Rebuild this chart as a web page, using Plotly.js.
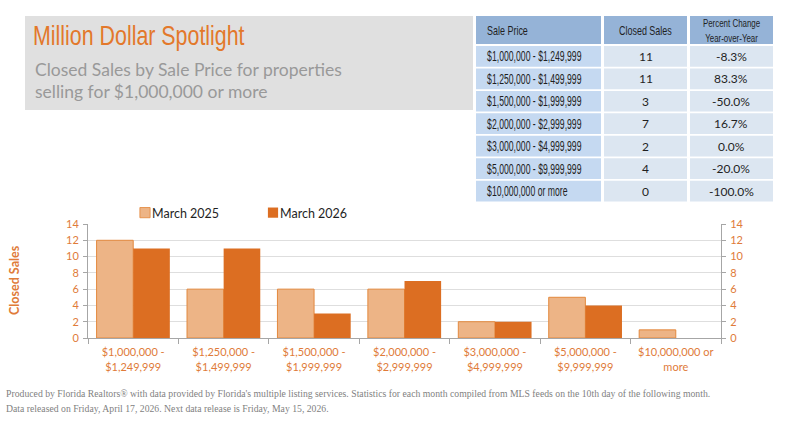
<!DOCTYPE html>
<html>
<head>
<meta charset="utf-8">
<script src="https://cdn.plot.ly/plotly-3.0.1.min.js"></script>
<style>
  html, body { margin: 0; padding: 0; background: #ffffff; }
  #chart { width: 792px; height: 434px; }
</style>
</head>
<body>
<div id="chart"></div>
<script>
// ---- data ----
const categories = ["$1,000,000 - $1,249,999", "$1,250,000 - $1,499,999", "$1,500,000 - $1,999,999",
  "$2,000,000 - $2,999,999", "$3,000,000 - $4,999,999", "$5,000,000 - $9,999,999", "$10,000,000 or more"];
const tickLabels = ["$1,000,000 -<br>$1,249,999", "$1,250,000 -<br>$1,499,999", "$1,500,000 -<br>$1,999,999",
  "$2,000,000 -<br>$2,999,999", "$3,000,000 -<br>$4,999,999", "$5,000,000 -<br>$9,999,999", "$10,000,000 or<br>more"];
const march2025 = [12, 6, 6, 6, 2, 5, 1];
const march2026 = [11, 11, 3, 7, 2, 4, 0];
const pctChange = ["-8.3%", "83.3%", "-50.0%", "16.7%", "0.0%", "-20.0%", "-100.0%"];
const seriesNames = ["March 2025", "March 2026"];
const tableHeaders = ["Sale Price", "Closed Sales", "Percent Change<br>Year-over-Year"];

// ---- geometry helpers (pixel -> paper) ----
const W = 792, H = 434;
const M = { l: 88, r: 71, t: 224, b: 96 };
const PW = W - M.l - M.r, PH = H - M.t - M.b;
const X = px => (px - M.l) / PW;
const Y = py => (H - M.b - py) / PH;

const ORANGE_TXT = "#e07b39";
const ARIAL = "Liberation Sans, Arial, sans-serif";
const CAL = "Lato, Carlito, Calibri, sans-serif";
const HEAD_SCALE = 0.69;
const CELL_SCALE = 0.62;

const traces = [
  {
    type: "bar", name: seriesNames[0], x: categories, y: march2025,
    marker: { color: "#edb486", line: { color: "#e3893e", width: 1 } },
    hoverinfo: "x+y+name"
  },
  {
    type: "bar", name: seriesNames[1], x: categories, y: march2026,
    marker: { color: "#dc6e22", line: { width: 0 } },
    hoverinfo: "x+y+name"
  },
  {
    type: "scatter", mode: "markers", x: categories, y: march2026, yaxis: "y2",
    marker: { opacity: 0 }, showlegend: false, hoverinfo: "skip"
  }
];

const shapes = [];
const annotations = [];
const condense = []; // per-annotation horizontal compression (narrow fonts are not installed)

function addAnn(a, c) { annotations.push(a); condense.push(c || null); }

// title box
shapes.push({ type: "rect", xref: "paper", yref: "paper", x0: X(25), x1: X(473), y0: Y(16), y1: Y(110),
  fillcolor: "#e0e0e0", line: { width: 0 }, layer: "below" });
addAnn({ xref: "paper", yref: "paper", x: X(31), y: Y(36), xanchor: "left", yanchor: "middle",
  text: "Million Dollar Spotlight", showarrow: false,
  font: { family: ARIAL, size: 27, color: "#e3782b" } }, { fit: 212, anchor: "left" });
addAnn({ xref: "paper", yref: "paper", x: X(33), y: Y(69), xanchor: "left", yanchor: "middle",
  text: "Closed Sales by Sale Price for properties", showarrow: false,
  font: { family: CAL, size: 17.5, color: "#999999" } });
addAnn({ xref: "paper", yref: "paper", x: X(33), y: Y(91), xanchor: "left", yanchor: "middle",
  text: "selling for $1,000,000 or more", showarrow: false,
  font: { family: CAL, size: 17.5, color: "#999999" } });

// table
const colX = [[476, 601], [604, 687], [690, 773]];
const headTop = 16, headBot = 44;
const rowTop0 = 46, rowPitch = 22.45, rowH = 20.7;
colX.forEach((c, j) => {
  shapes.push({ type: "rect", xref: "paper", yref: "paper", x0: X(c[0]), x1: X(c[1]), y0: Y(headTop), y1: Y(headBot),
    fillcolor: "#95b3d7", line: { width: 0 }, layer: "below" });
  addAnn({ xref: "paper", yref: "paper",
    x: j === 0 ? X(c[0] + 9) : X((c[0] + c[1]) / 2), y: Y((headTop + headBot) / 2),
    xanchor: j === 0 ? "left" : "center", yanchor: "middle", showarrow: false,
    text: tableHeaders[j],
    font: { family: ARIAL, size: j === 2 ? 11.5 : 13, color: "#1f1f1f" } },
    { s: HEAD_SCALE, anchor: j === 0 ? "left" : "center" });
});
categories.forEach((cat, i) => {
  const top = rowTop0 + i * rowPitch, bot = top + rowH, mid = (top + bot) / 2;
  const vals = [cat, String(march2026[i]), pctChange[i]];
  colX.forEach((c, j) => {
    shapes.push({ type: "rect", xref: "paper", yref: "paper", x0: X(c[0]), x1: X(c[1]), y0: Y(top), y1: Y(bot),
      fillcolor: j === 0 ? "#c5d9f1" : "#dce6f1", line: { width: 0 }, layer: "below" });
    addAnn({ xref: "paper", yref: "paper",
      x: j === 0 ? X(c[0] + 9) : X((c[0] + c[1]) / 2), y: Y(mid),
      xanchor: j === 0 ? "left" : "center", yanchor: "middle", showarrow: false,
      text: vals[j],
      font: { family: j === 0 ? ARIAL : CAL, size: j === 0 ? 14 : 12, color: "#1f1f1f" } },
      j === 0 ? { s: CELL_SCALE, anchor: "left" } : null);
  });
});

// y-axis title
addAnn({ xref: "paper", yref: "paper", x: X(14), y: Y(280), xanchor: "center", yanchor: "middle",
  text: "<b>Closed Sales</b>", textangle: -90, showarrow: false,
  font: { family: CAL, size: 12.5, color: ORANGE_TXT } });

// footer
addAnn({ xref: "paper", yref: "paper", x: X(4), y: Y(393), xanchor: "left", yanchor: "middle",
  text: "Produced by Florida Realtors® with data provided by Florida's multiple listing services. Statistics for each month compiled from MLS feeds on the 10th day of the following month.",
  showarrow: false, font: { family: "Liberation Serif, serif", size: 10, color: "#7f7f7f" } }, { s: 0.972, anchor: "left" });
addAnn({ xref: "paper", yref: "paper", x: X(4), y: Y(408), xanchor: "left", yanchor: "middle",
  text: "Data released on Friday, April 17, 2026. Next data release is Friday, May 15, 2026.",
  showarrow: false, font: { family: "Liberation Serif, serif", size: 10, color: "#7f7f7f" } }, { s: 0.972, anchor: "left" });

const axisCommon = {
  range: [0, 14], dtick: 2, tick0: 0, showline: true, linecolor: "#a6a6a6", linewidth: 1,
  ticks: "outside", ticklen: 4, tickcolor: "#a6a6a6", zeroline: false, ticklabelstandoff: 2,
  tickfont: { family: CAL, size: 11, color: ORANGE_TXT }, fixedrange: true
};

const layout = {
  width: W, height: H,
  margin: M,
  paper_bgcolor: "#ffffff", plot_bgcolor: "#ffffff",
  barmode: "group", bargap: 0.19, bargroupgap: 0,
  showlegend: true,
  legend: {
    orientation: "h", xref: "paper", yref: "paper", x: X(112), y: Y(213), xanchor: "left", yanchor: "middle",
    font: { family: CAL, size: 12.5, color: "#1f1f1f" }, bgcolor: "rgba(0,0,0,0)",
    itemwidth: 30, entrywidth: 83, traceorder: "normal"
  },
  xaxis: {
    type: "category", tickmode: "array", tickvals: categories, ticktext: tickLabels,
    showline: true, linecolor: "#a6a6a6", linewidth: 1, ticks: "outside", tickson: "boundaries",
    ticklen: 5, tickcolor: "#a6a6a6", showgrid: false, ticklabelstandoff: 4,
    tickfont: { family: CAL, size: 11, color: ORANGE_TXT }, tickangle: 0, fixedrange: true,
    automargin: false
  },
  yaxis: Object.assign({}, axisCommon, { side: "left", showgrid: true, gridcolor: "#dedede", gridwidth: 1, automargin: false }),
  yaxis2: Object.assign({}, axisCommon, { side: "right", overlaying: "y", showgrid: false, automargin: false }),
  shapes: shapes,
  annotations: annotations,
  font: { family: CAL }
};

Plotly.newPlot("chart", traces, layout, { displayModeBar: false, staticPlot: true }).then(() => {
  document.querySelectorAll("#chart .annotation").forEach(g => {
    const i = +g.getAttribute("data-index");
    const c = condense[i];
    if (!c) return;
    const t = g.querySelector("text.annotation-text");
    if (!t) return;
    const bb = t.getBBox();
    const s = c.fit ? c.fit / bb.width : c.s;
    const ax = c.anchor === "left" ? bb.x : bb.x + bb.width / 2;
    t.setAttribute("transform", `translate(${ax},0) scale(${s},1) translate(${-ax},0)`);
  });
  // bring legend swatches closer to their labels, like the reference
  document.querySelectorAll("#chart .legend .legendpoints path").forEach(p => {
    p.setAttribute("transform", "translate(33,0) scale(0.85)");
  });
});
</script>
</body>
</html>
